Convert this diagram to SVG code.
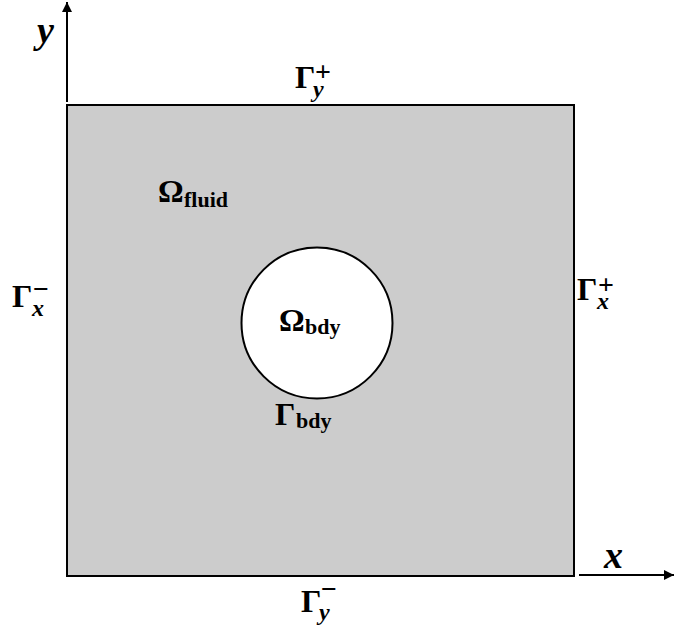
<svg xmlns="http://www.w3.org/2000/svg" width="675" height="630" viewBox="0 0 675 630">
<defs>
<style>
.m{font-family:"Liberation Serif","DejaVu Serif",serif;font-weight:bold;fill:#000;font-size:32px}
.sub{font-size:22px}
.sup{font-size:28px}
.si{font-size:24px;font-style:italic}
.it{font-style:italic;font-size:38px}
.ax{stroke:#000;stroke-width:2;fill:none}
</style>
<marker id="ah" viewBox="0 0 10 10" refX="10" refY="5" markerWidth="5" markerHeight="5" orient="auto" markerUnits="strokeWidth">
<path d="M0,0 L10,5 L0,10 Z" fill="#000"/>
</marker>
</defs>
<rect width="675" height="630" fill="#fff"/>
<g id="domain">
<rect x="67" y="105" width="507" height="471" fill="#cccccc" stroke="#000" stroke-width="2"/>
</g>
<g id="body">
<circle cx="317" cy="323" r="75.5" fill="#fff" stroke="#000" stroke-width="2"/>
</g>
<g id="connectors">
<line class="ax" x1="67" y1="102" x2="67" y2="2" marker-end="url(#ah)"/>
<line class="ax" x1="579" y1="575" x2="674" y2="575" marker-end="url(#ah)"/>
</g>
<g id="labels">
<text class="m it" x="37" y="43">y</text>
<text class="m it" x="604" y="568">x</text>
<g id="gamma-y-plus"><text class="m" x="295" y="88">Γ<tspan class="sup" x="315" y="81">+</tspan><tspan class="si" x="313" y="97">y</tspan></text></g>
<g id="gamma-y-minus"><text class="m" x="301" y="612">Γ<tspan class="sup" x="321" y="598">−</tspan><tspan class="si" x="319" y="620">y</tspan></text></g>
<g id="gamma-x-minus"><text class="m" x="12" y="307">Γ<tspan class="sup" x="33" y="298">−</tspan><tspan class="si" x="32" y="316">x</tspan></text></g>
<g id="gamma-x-plus"><text class="m" x="577" y="300">Γ<tspan class="sup" x="598" y="294">+</tspan><tspan class="si" x="597" y="309">x</tspan></text></g>
<g id="omega-fluid"><text class="m" x="158" y="202">Ω<tspan class="sub" x="184" y="207">fluid</tspan></text></g>
<g id="omega-bdy"><text class="m" x="279" y="331">Ω<tspan class="sub" x="305" y="334">bdy</tspan></text></g>
<g id="gamma-bdy"><text class="m" x="275" y="425">Γ<tspan class="sub" x="296" y="428">bdy</tspan></text></g>
</g>
</svg>
